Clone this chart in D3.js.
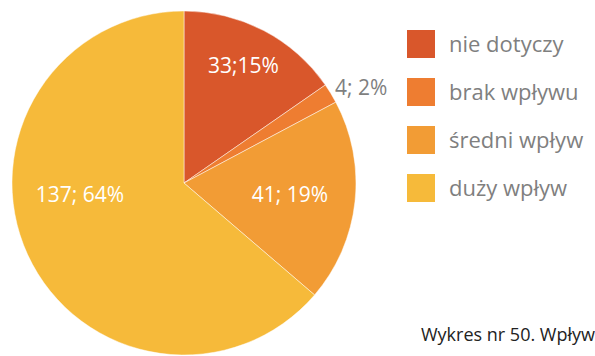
<!DOCTYPE html>
<html><head><meta charset="utf-8">
<script src="https://cdn.jsdelivr.net/npm/d3@7"></script>
<style>html,body{margin:0;padding:0;background:#fff;overflow:hidden}</style>
</head><body>
<svg id="c" width="595" height="356"></svg>
<script>
const categories = ["nie dotyczy", "brak wpływu", "średni wpływ", "duży wpływ"];
const values = [33, 4, 41, 137];
const percents = [15, 2, 19, 64];
const sliceLabels = ["33;15%", "4; 2%", "41; 19%", "137; 64%"];
const colors = ["#D9572B", "#EE7D31", "#F29C35", "#F6BA3A"];
const caption = "Wykres nr 50. Wpływ";

const svg = d3.select("#c");
const cx = 184, cy = 183, r = 172;
const pie = d3.pie().sort(null).value(d => d)(values);
const arc = d3.arc().innerRadius(0).outerRadius(r);
const g = svg.append("g").attr("transform", `translate(${cx},${cy})`);
g.selectAll("path").data(pie).join("path")
  .attr("d", arc).attr("fill", (d, i) => colors[i])
  .attr("stroke", "#fff").attr("stroke-width", 0.8).attr("stroke-opacity", 0.6);

const font = "'Open Sans', 'Noto Sans', sans-serif";
const labelArc = d3.arc().innerRadius(r * 0.62).outerRadius(r * 0.62);
g.selectAll("text.lbl").data(pie).join("text")
  .attr("class", "lbl")
  .attr("transform", (d, i) => {
    const a = (d.startAngle + d.endAngle) / 2;
    if (i === 0) {
      const rr = r * 0.72;
      return `translate(${Math.sin(a) * rr + 2},${-Math.cos(a) * rr - 8})`;
    }
    if (i === 1) {
      const rr = r + 12;
      return `translate(${Math.sin(a) * rr - 6},${-Math.cos(a) * rr})`;
    }
    if (i === 3) {
      return `translate(${-cx + 80},${12})`;
    }
    const c = labelArc.centroid(d);
    return `translate(${c[0]},${c[1]})`;
  })
  .attr("text-anchor", (d, i) => i === 1 ? "start" : "middle")
  .attr("dy", "0.35em")
  .attr("font-family", font).attr("font-size", 21)
  .attr("fill", (d, i) => i === 1 ? "#7F7F7F" : "#fff")
  .text((d, i) => sliceLabels[i]);

const leg = svg.append("g").attr("transform", "translate(407,30)");
const items = leg.selectAll("g").data(categories).join("g")
  .attr("transform", (d, i) => `translate(0,${i * 48})`);
items.append("rect").attr("width", 28).attr("height", 28).attr("fill", (d, i) => colors[i]);
items.append("text").attr("x", 42).attr("y", 14).attr("dy", "0.35em")
  .attr("font-family", font).attr("font-size", 22).attr("fill", "#7F7F7F")
  .text(d => d);

svg.append("text").attr("x", 595).attr("y", 341).attr("text-anchor", "end")
  .attr("font-family", "'Open Sans', 'Liberation Sans', sans-serif").attr("font-size", 18)
  .attr("fill", "#222").text(caption);
</script>
</body></html>
